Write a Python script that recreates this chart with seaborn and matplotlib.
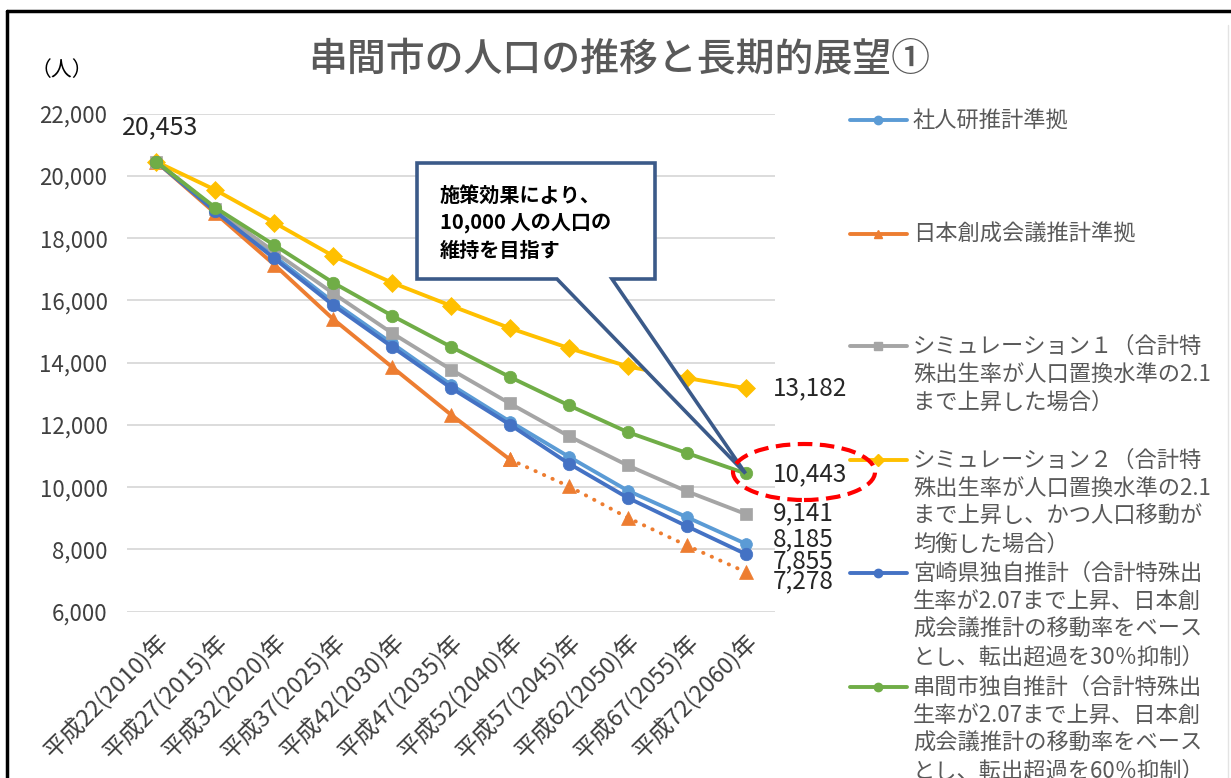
import matplotlib
matplotlib.use("Agg")
import matplotlib.pyplot as plt
import seaborn as sns
from matplotlib.lines import Line2D
from matplotlib.patches import Ellipse, Polygon
from matplotlib.ticker import FuncFormatter

# ---- data -------------------------------------------------------------
years = ["平成22(2010)年", "平成27(2015)年", "平成32(2020)年", "平成37(2025)年",
         "平成42(2030)年", "平成47(2035)年", "平成52(2040)年", "平成57(2045)年",
         "平成62(2050)年", "平成67(2055)年", "平成72(2060)年"]

ipss      = [20453, 18900, 17420, 15950, 14620, 13290, 12110, 10980, 9890, 9040, 8185]
sousei    = [20453, 18800, 17150, 15400, 13860, 12330, 10890, 10030, 9020, 8130, 7278]
sim1      = [20453, 18940, 17560, 16230, 14950, 13780, 12690, 11640, 10700, 9870, 9141]
sim2      = [20453, 19550, 18500, 17430, 16570, 15830, 15110, 14470, 13880, 13510, 13182]
miyazaki  = [20453, 18860, 17350, 15850, 14510, 13190, 12010, 10760, 9660, 8750, 7855]
kushima   = [20453, 18980, 17780, 16570, 15510, 14510, 13540, 12630, 11770, 11100, 10443]

series_names = [
    "社人研推計準拠",
    "日本創成会議推計準拠",
    "シミュレーション１（合計特\n殊出生率が人口置換水準の2.1\nまで上昇した場合）",
    "シミュレーション２（合計特\n殊出生率が人口置換水準の2.1\nまで上昇し、かつ人口移動が\n均衡した場合）",
    "宮崎県独自推計（合計特殊出\n生率が2.07まで上昇、日本創\n成会議推計の移動率をベース\nとし、転出超過を30％抑制）",
    "串間市独自推計（合計特殊出\n生率が2.07まで上昇、日本創\n成会議推計の移動率をベース\nとし、転出超過を60％抑制）",
]
colors  = ["#5B9BD5", "#ED7D31", "#A5A5A5", "#FFC000", "#4472C4", "#70AD47"]
markers = ["o", "^", "s", "D", "o", "o"]
msizes  = [8.5, 9.5, 8.5, 9.5, 9, 9]

title = "串間市の人口の推移と長期的展望①"
unit_label = "（人）"
callout_lines = ["施策効果により、", "10,000 人の人口の", "維持を目指す"]

# ---- figure -----------------------------------------------------------
sns.set_theme(style="white")
plt.rcParams["font.family"] = ["Noto Sans CJK JP", "DejaVu Sans"]

W, H = 1231, 778
fig = plt.figure(figsize=(W / 100, H / 100), dpi=100)
fig.patch.set_facecolor("white")


def fx(x):
    return x / W


def fy(y):
    return 1 - y / H


ax = fig.add_axes([fx(127), fy(611.7), 648 / W, 498 / H])
idx = list(range(len(years)))

all_series = [ipss, sousei, sim1, sim2, miyazaki, kushima]
for k, (vals, col, mk, ms) in enumerate(zip(all_series, colors, markers, msizes)):
    common = dict(color=col, marker=mk, markersize=ms, markeredgecolor=col,
                  markeredgewidth=0.5, zorder=3 + k, ax=ax)
    if k == 1:
        # solid up to 2040, dotted afterwards
        sns.lineplot(x=idx[:7], y=vals[:7], linewidth=2.8, **common)
        sns.lineplot(x=idx[6:], y=vals[6:], linewidth=2.8,
                     linestyle=(0, (0.1, 2.3)), dash_capstyle="round", **common)
    else:
        sns.lineplot(x=idx, y=vals, linewidth=2.8, **common)

ax.set_xlim(-0.5, len(years) - 0.5)
ax.set_ylim(6000, 22000)
ax.set_yticks(range(6000, 22001, 2000))
ax.yaxis.set_major_formatter(FuncFormatter(lambda v, p: f"{int(v):,}"))
ax.set_xticks(idx)
ax.set_xticklabels(years, rotation=45, ha="right", va="top",
                   rotation_mode="anchor", fontsize=17, color="#404040")
ax.tick_params(axis="y", labelsize=16, labelcolor="#404040", length=0, pad=14)
ax.tick_params(axis="x", length=0, pad=13)
ax.set_xlabel("")
ax.set_ylabel("")
ax.yaxis.grid(True, color="#D9D9D9", linewidth=1.3)
ax.xaxis.grid(False)
ax.set_axisbelow(True)
for s in ax.spines.values():
    s.set_visible(False)

# ---- data labels -----------------------------------------------------
ax.annotate(f"{kushima[0]:,}", xy=(0, kushima[0]), xytext=(4, 35),
            textcoords="offset pixels", ha="center", va="center",
            fontsize=18, color="#262626")
end_offsets = [4, -9, 1, 0, -7, -1]
for vals, dy in zip(all_series, end_offsets):
    ax.annotate(f"{vals[-1]:,}", xy=(idx[-1], vals[-1]), xytext=(27, dy),
                textcoords="offset pixels", ha="left", va="center",
                fontsize=17.5, color="#262626", annotation_clip=False)

# ---- title & unit ----------------------------------------------------
fig.text(fx(619), fy(59), title, ha="center", va="center",
         fontsize=28, color="#595959", fontweight="medium")
fig.text(fx(62), fy(70), unit_label, ha="center", va="center",
         fontsize=15, color="black")

# ---- callout ----------------------------------------------------------
tip = fig.transFigure.inverted().transform(
    ax.transData.transform((idx[-1], kushima[-1])))
box_px = [(417, 163), (655, 163), (655, 279), (612, 279), None, (557, 279), (417, 279)]
pts = [tuple(tip) if p is None else (fx(p[0]), fy(p[1])) for p in box_px]
fig.add_artist(Polygon(pts, closed=True, transform=fig.transFigure,
                       facecolor="white", edgecolor="#3B5A89", linewidth=2.6,
                       joinstyle="miter", zorder=20))
for j, line in enumerate(callout_lines):
    fig.text(fx(440), fy(195 + 27.5 * j), line, ha="left", va="center",
             fontsize=14.5, fontweight="bold", color="black", zorder=21)

# red dashed ring around the target value
fig.add_artist(Ellipse((fx(804), fy(472)), 142 / W, 56 / H,
                       transform=fig.transFigure, fill=False,
                       edgecolor="#FF0000", linewidth=3,
                       linestyle=(0, (3.5, 1.8)), zorder=22))

# ---- legend -----------------------------------------------------------
leg_y = [120, 234, 346, 460, 573, 687]
for name, col, mk, y0 in zip(series_names, colors, markers, leg_y):
    fig.add_artist(Line2D([fx(850), fx(907)], [fy(y0), fy(y0)],
                          transform=fig.transFigure, color=col, linewidth=2.8))
    fig.add_artist(Line2D([fx(878)], [fy(y0)], transform=fig.transFigure,
                          color=col, marker=mk, markersize=6,
                          markeredgecolor=col, linestyle="none"))
    for j, line in enumerate(name.split("\n")):
        fig.text(fx(913), fy(y0 + 28 * j), line, ha="left", va="center",
                 fontsize=16, color="#595959")

# ---- outer frame ------------------------------------------------------
fig.add_artist(Line2D([fx(7), fx(1231)], [fy(11), fy(11)],
                      transform=fig.transFigure, color="black", linewidth=2.5))
fig.add_artist(Line2D([fx(7), fx(7)], [fy(11), fy(778)],
                      transform=fig.transFigure, color="black", linewidth=2.5))
fig.add_artist(Line2D([fx(1228), fx(1228)], [fy(25), fy(778)],
                      transform=fig.transFigure, color="#E3E3E3", linewidth=1))

fig.savefig("out.png", dpi=100)
